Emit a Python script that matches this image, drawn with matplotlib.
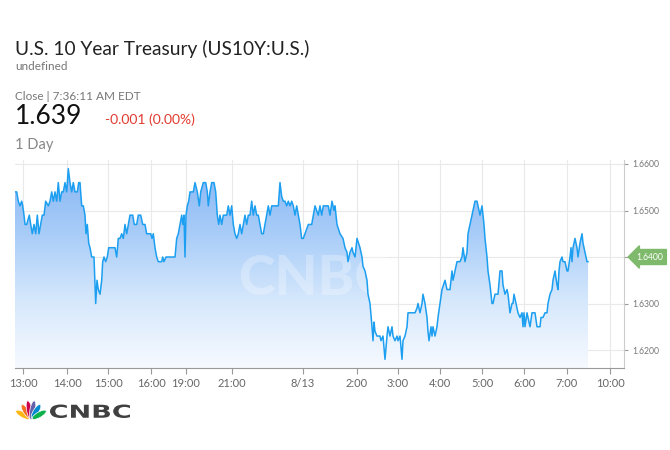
import numpy as np
import matplotlib
matplotlib.use("Agg")
import matplotlib.pyplot as plt
from matplotlib.patches import Ellipse, PathPatch
from matplotlib.colors import LinearSegmentedColormap
from matplotlib.textpath import TextPath
from matplotlib.font_manager import FontProperties
from matplotlib.transforms import Affine2D

# ---- data (x = ordinal chart slot, y = yield) ----
slot = [0, 1.7, 3.3, 5, 6.7, 7.7, 9, 10, 11.7, 14.3,
        15.7, 17.3, 19, 20.7, 22.3, 24, 25.7, 27.3, 29, 30.7,
        33.3, 35, 36.7, 38.3, 40, 41.7, 43.3, 45, 46.7, 48.3,
        50, 51.7, 53.3, 55, 56.7, 58.3, 60, 62.3, 63.7, 65,
        66.7, 68.3, 70, 71, 72.3, 73.7, 75, 76.7, 79, 80.7,
        82, 83.3, 85, 86.7, 87.7, 89, 90.7, 92.3, 93.7, 100,
        101.7, 103.3, 105, 106.7, 108.3, 110, 111.7, 113.3, 115, 117.7,
        119.3, 121.7, 123.3, 125.7, 127.7, 130, 131.7, 135.7, 137, 138.3,
        140, 141.7, 143.3, 146.7, 147.7, 149, 151, 160, 161.7, 163.3,
        165, 166.7, 167.7, 169, 170, 171, 172.3, 173.7, 175, 178.3,
        180, 182.3, 184.3, 185.7, 188.3, 190.7, 192.3, 193.3, 195, 196.7,
        199, 200.7, 202.3, 203.7, 205, 206.7, 208.3, 211.7, 213.3, 215,
        216.7, 218.3, 220, 221.7, 223.3, 225, 226.7, 228.3, 230, 231.7,
        233.3, 235, 236.7, 238.3, 240, 241.7, 243.3, 245, 246.7, 248.3,
        250, 251.7, 253.3, 255, 256.7, 263.3, 265, 266.7, 268.3, 270,
        271.7, 273.3, 275, 276.7, 278.3, 280, 281.7, 283.3, 285, 286.7,
        288.3, 290, 293.3, 296.7, 298.3, 300, 303.3, 305, 306.7, 308.3,
        313.3, 315, 317, 319, 320, 322, 325, 328, 330, 332,
        333, 335, 337, 338, 340, 342, 345, 347, 348, 350,
        352, 353, 355, 357, 358, 359, 360, 362, 365, 366,
        368, 370, 372, 373, 375, 377, 378, 380, 382, 383,
        385, 387, 388, 390, 392, 393, 397, 400, 402, 403,
        405, 407, 408, 410, 412, 413, 414, 416, 417, 418,
        420, 422, 423, 425, 427, 430, 432, 435, 437, 438,
        440, 442, 445, 447, 448, 450, 452, 453, 455, 457,
        458, 460, 462, 463, 465, 467, 468, 469, 470, 472,
        473, 475, 477, 478, 480, 483, 485, 487, 488, 490,
        492, 493, 495, 497, 498, 499, 501, 503, 505, 507,
        508, 509, 510, 512, 513, 515, 517, 518, 520, 522,
        525, 526, 528, 530, 532, 533, 535, 537, 538, 540,
        542, 543, 544, 545, 547, 548, 550, 552, 553, 555,
        556, 557, 558, 560, 562, 563, 565, 567, 568, 570,
        572, 573]
yld = [1.654, 1.654, 1.652, 1.651, 1.652, 1.651, 1.649, 1.647, 1.647, 1.649,
       1.647, 1.645, 1.647, 1.645, 1.649, 1.645, 1.647, 1.649, 1.649, 1.652,
       1.651, 1.652, 1.654, 1.652, 1.654, 1.652, 1.656, 1.652, 1.654, 1.654,
       1.656, 1.654, 1.659, 1.656, 1.654, 1.656, 1.654, 1.654, 1.656, 1.656,
       1.651, 1.651, 1.649, 1.645, 1.647, 1.643, 1.642, 1.640, 1.640, 1.630,
       1.635, 1.633, 1.632, 1.635, 1.639, 1.640, 1.639, 1.640, 1.642, 1.642,
       1.640, 1.644, 1.644, 1.645, 1.644, 1.647, 1.645, 1.647, 1.649, 1.649,
       1.647, 1.647, 1.649, 1.649, 1.647, 1.647, 1.645, 1.645, 1.644, 1.645,
       1.642, 1.640, 1.639, 1.639, 1.640, 1.639, 1.640, 1.640, 1.644, 1.645,
       1.647, 1.649, 1.647, 1.649, 1.640, 1.649, 1.651, 1.652, 1.654, 1.654,
       1.656, 1.654, 1.651, 1.654, 1.656, 1.656, 1.654, 1.651, 1.654, 1.656,
       1.656, 1.654, 1.649, 1.647, 1.649, 1.647, 1.649, 1.649, 1.651, 1.649,
       1.651, 1.647, 1.645, 1.644, 1.645, 1.647, 1.645, 1.647, 1.649, 1.647,
       1.649, 1.649, 1.652, 1.649, 1.651, 1.649, 1.649, 1.647, 1.645, 1.645,
       1.647, 1.649, 1.651, 1.649, 1.651, 1.651, 1.656, 1.653, 1.652, 1.652,
       1.651, 1.652, 1.651, 1.652, 1.651, 1.649, 1.651, 1.649, 1.647, 1.644,
       1.644, 1.645, 1.647, 1.647, 1.649, 1.651, 1.649, 1.651, 1.649, 1.651,
       1.651, 1.649, 1.652, 1.650, 1.651, 1.647, 1.645, 1.644, 1.642, 1.641,
       1.639, 1.641, 1.642, 1.641, 1.640, 1.644, 1.642, 1.640, 1.638, 1.637,
       1.635, 1.632, 1.630, 1.625, 1.622, 1.626, 1.624, 1.623, 1.623, 1.622,
       1.623, 1.618, 1.623, 1.625, 1.623, 1.625, 1.623, 1.622, 1.623, 1.622,
       1.623, 1.618, 1.622, 1.623, 1.625, 1.628, 1.628, 1.628, 1.629, 1.630,
       1.628, 1.630, 1.632, 1.630, 1.627, 1.624, 1.622, 1.625, 1.623, 1.625,
       1.623, 1.625, 1.627, 1.630, 1.633, 1.635, 1.633, 1.633, 1.637, 1.635,
       1.637, 1.639, 1.639, 1.640, 1.642, 1.639, 1.641, 1.645, 1.647, 1.649,
       1.650, 1.652, 1.652, 1.651, 1.649, 1.651, 1.649, 1.647, 1.644, 1.640,
       1.637, 1.634, 1.630, 1.630, 1.632, 1.632, 1.637, 1.637, 1.634, 1.632,
       1.633, 1.632, 1.628, 1.630, 1.630, 1.632, 1.630, 1.628, 1.627, 1.628,
       1.625, 1.628, 1.625, 1.628, 1.627, 1.625, 1.628, 1.628, 1.628, 1.625,
       1.625, 1.627, 1.627, 1.628, 1.628, 1.630, 1.632, 1.633, 1.635, 1.637,
       1.634, 1.633, 1.637, 1.639, 1.640, 1.639, 1.639, 1.637, 1.637, 1.640,
       1.642, 1.639, 1.642, 1.644, 1.642, 1.640, 1.643, 1.645, 1.643, 1.641,
       1.639, 1.639]
assert len(slot) == len(yld), (len(slot), len(yld))

tick_slots = [8, 52, 93, 136, 171, 217, 288, 342, 383, 425, 467, 509, 552, 595]
tick_labels = ["13:00", "14:00", "15:00", "16:00", "19:00", "21:00", "8/13",
               "2:00", "3:00", "4:00", "5:00", "6:00", "7:00", "10:00"]
y_ticks = [1.62, 1.63, 1.64, 1.65, 1.66]
last_tag = 1.64

title = "U.S. 10 Year Treasury (US10Y:U.S.)"
subtitle = "undefined"
close_txt = "Close | 7:36:11 AM EDT"
price = "1.639"
change = "-0.001 (0.00%)"
period = "1 Day"

FONT = ["Lato", "DejaVu Sans"]
plt.rcParams['font.family'] = FONT

fig = plt.figure(figsize=(6.7, 4.5), dpi=100)
ax = fig.add_axes([15 / 670, 1 - 368 / 450, 609 / 670, 208 / 450])
ymin, ymax = 1.61613, 1.66086
ax.set_xlim(0, 609)
ax.set_ylim(ymin, ymax)

# gradient fill under line
x = np.array(slot)
y = np.array(yld)
poly = ax.fill_between(x, y, ymin, color="none", lw=0)
cmap = LinearSegmentedColormap.from_list("g", ["#f7faff", "#d6e8fc", "#a9cdf8", "#88b6f4"])
grad = np.linspace(0, 1, 256).reshape(-1, 1)
im = ax.imshow(grad, aspect="auto", cmap=cmap, origin="lower",
               extent=[0, x.max(), ymin, y.max()], zorder=2)
path = poly.get_paths()[0]
im.set_clip_path(path, transform=ax.transData)
ax.plot(x, y, color="#1c9ff0", lw=1.1, zorder=4)

# faint watermark
ax.text(315 - 15, 1.6352, "CNBC", ha="center", va="center", fontsize=40,
        fontweight="black", color="white", alpha=0.28, zorder=3)

# grid & axes
ax.set_xticks(tick_slots)
ax.set_xticklabels(tick_labels)
ax.set_yticks(y_ticks)
ax.set_yticklabels(["" if abs(v - last_tag) < 1e-9 else f"{v:.4f}" for v in y_ticks])
ax.yaxis.tick_right()
ax.grid(True, color="#e9e9e9", lw=0.8, zorder=0)
ax.set_axisbelow(True)
for s in ["top", "left"]:
    ax.spines[s].set_visible(False)
ax.spines["bottom"].set_color("#9a9a9a")
ax.spines["right"].set_color("#cccccc")
ax.tick_params(axis="x", colors="#9a9a9a", labelcolor="#666666", labelsize=8,
               length=4, pad=3)
ax.tick_params(axis="y", colors="#9a9a9a", labelcolor="#777777", labelsize=6.2,
               length=3, pad=3)

# last-price tag
ax.annotate(f"{last_tag:.4f}", xy=(1.0, last_tag), xycoords=("axes fraction", "data"),
            xytext=(9, 0), textcoords="offset points", ha="left", va="center",
            fontsize=6.2, color="white",
            bbox=dict(boxstyle="larrow,pad=0.35", fc="#7fba6c", ec="#7fba6c"),
            annotation_clip=False, zorder=6)

# header text
fig.text(15 / 670, 1 - 55 / 450, title, fontsize=13.8, color="#222222")
fig.text(15 / 670, 1 - 70 / 450, subtitle, fontsize=8.5, color="#777777")
fig.text(15 / 670, 1 - 100 / 450, close_txt, fontsize=8.5, color="#777777")
fig.text(15 / 670, 1 - 124 / 450, price, fontsize=19, color="#111111")
fig.text(105 / 670, 1 - 124 / 450, change, fontsize=10, color="#e03a2f")
fig.text(15 / 670, 1 - 149 / 450, period, fontsize=10.5, color="#888888")

# CNBC logo: peacock
lax = fig.add_axes([14 / 670, 1 - 420 / 450, 34 / 670, 20 / 450])
lax.set_xlim(-1.7, 1.7)
lax.set_ylim(0, 2)
lax.axis("off")
feather_colors = ["#fcb711", "#f37021", "#cc004c", "#6460aa", "#0089d0", "#0db14b"]
angles = [150, 122, 100, 80, 58, 30]
for c, a in zip(feather_colors, angles):
    r = np.deg2rad(a)
    cx, cy = 0.95 * np.cos(r), 0.95 * np.sin(r) + 0.05
    lax.add_patch(Ellipse((cx, cy), 0.55, 1.9 if 60 < a < 120 else 1.6,
                          angle=a - 90, fc=c, ec="white", lw=0.5))

# CNBC logo: wordmark (wide bold letters)
wax = fig.add_axes([50 / 670, 1 - 420 / 450, 82 / 670, 18 / 450])
wax.axis("off")
tp = TextPath((0, 0), "CNBC", size=10, prop=FontProperties(family="DejaVu Sans", weight="bold"))
bb = tp.get_extents()
sx = 80 / bb.width
sy = 13.5 / bb.height
tp2 = tp.transformed(Affine2D().translate(-bb.x0, -bb.y0).scale(sx, sy))
wax.add_patch(PathPatch(tp2, fc="#404040", ec="none"))
wax.set_xlim(0, 82)
wax.set_ylim(-2, 16)

fig.savefig("out.png", dpi=100)
